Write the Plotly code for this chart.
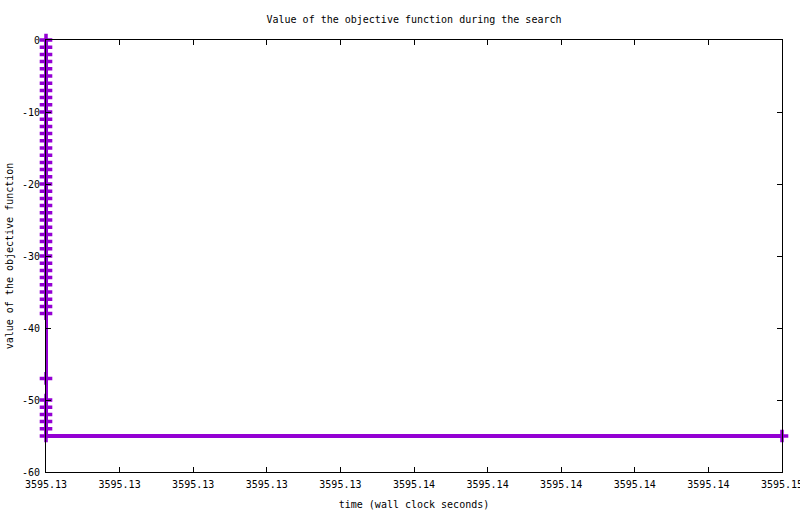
import plotly.graph_objects as go

# time (wall clock seconds) of each recorded value
times = [
    3595.126, 3595.126, 3595.126, 3595.126, 3595.126, 3595.126, 3595.126, 3595.126,
    3595.126, 3595.126, 3595.126, 3595.126, 3595.126, 3595.126, 3595.126, 3595.126,
    3595.126, 3595.126, 3595.126, 3595.126, 3595.126, 3595.126, 3595.126, 3595.126,
    3595.126, 3595.126, 3595.126, 3595.126, 3595.126, 3595.126, 3595.126, 3595.126,
    3595.126, 3595.126, 3595.126, 3595.126, 3595.126, 3595.126, 3595.126,
    3595.126, 3595.126, 3595.126, 3595.126, 3595.126, 3595.126, 3595.126,
    3595.146,
]
# objective value
values = [
    0, -1, -2, -3, -4, -5, -6, -7,
    -8, -9, -10, -11, -12, -13, -14, -15,
    -16, -17, -18, -19, -20, -21, -22, -23,
    -24, -25, -26, -27, -28, -29, -30, -31,
    -32, -33, -34, -35, -36, -37, -38,
    -47, -50, -51, -52, -53, -54, -55,
    -55,
]

x_tick_vals = [3595.126, 3595.128, 3595.130, 3595.132, 3595.134, 3595.136,
               3595.138, 3595.140, 3595.142, 3595.144, 3595.146]
x_tick_text = ["3595.13", "3595.13", "3595.13", "3595.13", "3595.13", "3595.14",
               "3595.14", "3595.14", "3595.14", "3595.14", "3595.15"]
y_tick_vals = [0, -10, -20, -30, -40, -50, -60]
y_tick_text = ["0", "-10", "-20", "-30", "-40", "-50", "-60"]

purple = "#9400D3"
font = dict(family="DejaVu Sans Mono", size=10, color="black")

fig = go.Figure()
fig.add_trace(go.Scatter(
    x=times, y=values,
    mode="lines+markers",
    line=dict(color=purple, width=4),
    marker=dict(symbol="cross-thin", size=9, color=purple,
                line=dict(color=purple, width=3.5)),
    cliponaxis=False,
    showlegend=False,
))

axis_common = dict(
    showgrid=False, zeroline=False, automargin=False,
    showline=True, linecolor="black", linewidth=1, mirror="ticks",
    ticks="inside", ticklen=5, tickcolor="black", tickwidth=1,
    tickfont=font, ticklabeloverflow="allow",
)

fig.update_layout(
    width=800, height=514,
    margin=dict(l=46, r=18, t=40, b=42),
    paper_bgcolor="white", plot_bgcolor="white",
    font=font,
    title=dict(text="Value of the objective function during the search",
               x=414 / 800, xanchor="center", y=1 - 19 / 514, yanchor="middle",
               font=font),
    xaxis=dict(range=[3595.126 - 1e-9, 3595.146 + 1e-9], tickvals=x_tick_vals,
               ticktext=x_tick_text, ticklabelstandoff=3,
               title=dict(text="time (wall clock seconds)", font=font, standoff=11),
               **axis_common),
    yaxis=dict(range=[-60, 0], tickvals=y_tick_vals, ticktext=y_tick_text,
               ticklabelstandoff=3,
               title=dict(text="value of the objective function", font=font, standoff=6),
               **axis_common),
)

fig.write_html("out.html",
               config={"displayModeBar": False},
               post_script="document.body.style.margin='0';document.body.style.overflow='hidden';")
